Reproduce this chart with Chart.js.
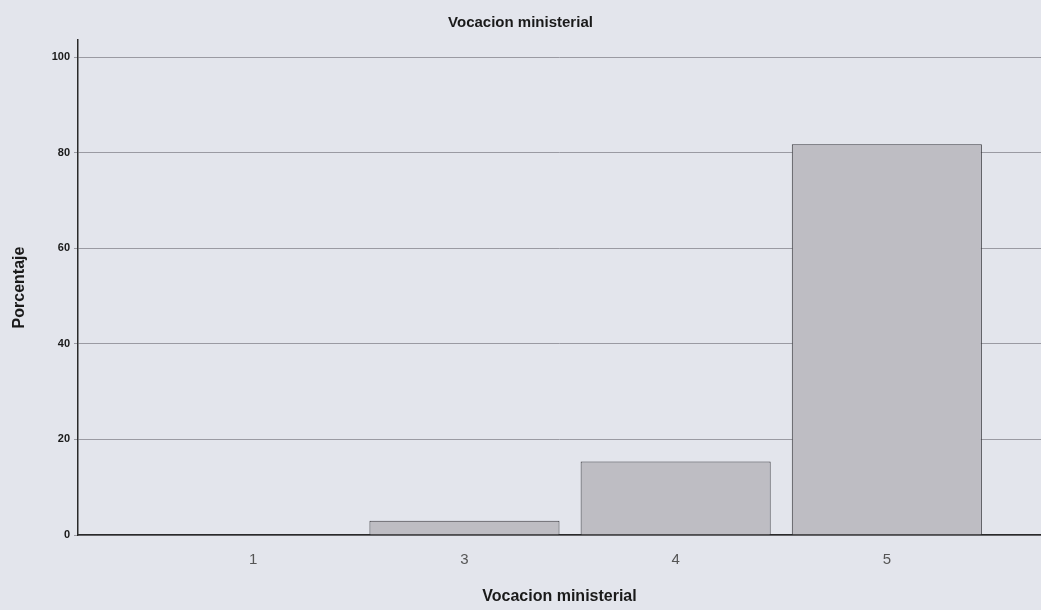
<!DOCTYPE html>
<html>
<head>
<meta charset="utf-8">
<script src="https://cdn.jsdelivr.net/npm/chart.js@4"></script>
<style>
  body { margin: 0; background: #e3e5ec; }
  #wrap { width: 1041px; height: 610px; }
</style>
</head>
<body>
<div id="wrap"><canvas id="barChart" width="1041" height="610"></canvas></div>
<script>
const categories = ["1", "3", "4", "5"];
const percentages = [0, 3, 15.4, 81.8];
const yTicks = [0, 20, 40, 60, 80, 100];

const points = percentages.map((v, i) => ({ x: i, y: v }));

const config = {
  type: "bar",
  data: {
    datasets: [
      {
        label: "Porcentaje",
        data: points,
        backgroundColor: "#bebdc3",
        borderColor: "#3a3a3e",
        borderWidth: 1,
        barPercentage: 0.9,
        categoryPercentage: 1,
      },
    ],
  },
  options: {
    responsive: false,
    animation: false,
    layout: { padding: { left: 0, right: 0, top: 0, bottom: 0 } },
    plugins: {
      legend: { display: false },
      tooltip: { enabled: false },
      title: {
        display: true,
        text: "Vocacion ministerial",
        color: "#1a1a1a",
        font: { family: "Liberation Sans", size: 15, weight: "bold" },
        padding: { top: 14, bottom: 8 },
      },
    },
    scales: {
      x: {
        type: "linear",
        min: -0.83,
        max: 3.73,
        offset: false,
        afterFit: (scale) => { scale.height = 75; },
        afterBuildTicks: (scale) => {
          scale.ticks = categories.map((c, i) => ({ value: i }));
        },
        grid: { display: false },
        border: { display: true, color: "#2a2a2a", width: 1.5 },
        ticks: {
          callback: (v) => categories[v],
          color: "#555",
          font: { family: "Liberation Sans", size: 15 },
          padding: 8,
          maxRotation: 0,
        },
        title: {
          display: true,
          text: "Vocacion ministerial",
          color: "#1a1a1a",
          font: { family: "Liberation Sans", size: 16, weight: "bold" },
          padding: { top: 4 },
        },
      },
      y: {
        min: 0,
        max: 103.6,
        afterFit: (scale) => { scale.width = 78; },
        afterBuildTicks: (scale) => {
          scale.ticks = yTicks.map((v) => ({ value: v }));
        },
        grid: {
          color: "#9a9aa2",
          lineWidth: 1,
          tickLength: 4,
        },
        border: { display: true, color: "#2a2a2a", width: 1.5 },
        ticks: {
          color: "#1a1a1a",
          font: { family: "Liberation Sans", size: 11, weight: "bold" },
          padding: 4,
        },
        title: {
          display: true,
          text: "Porcentaje",
          color: "#1a1a1a",
          font: { family: "Liberation Sans", size: 16, weight: "bold" },
          padding: { top: 10, bottom: 4 },
        },
      },
    },
  },
};

const chart = new Chart(document.getElementById("barChart").getContext("2d"), config);
</script>
</body>
</html>
